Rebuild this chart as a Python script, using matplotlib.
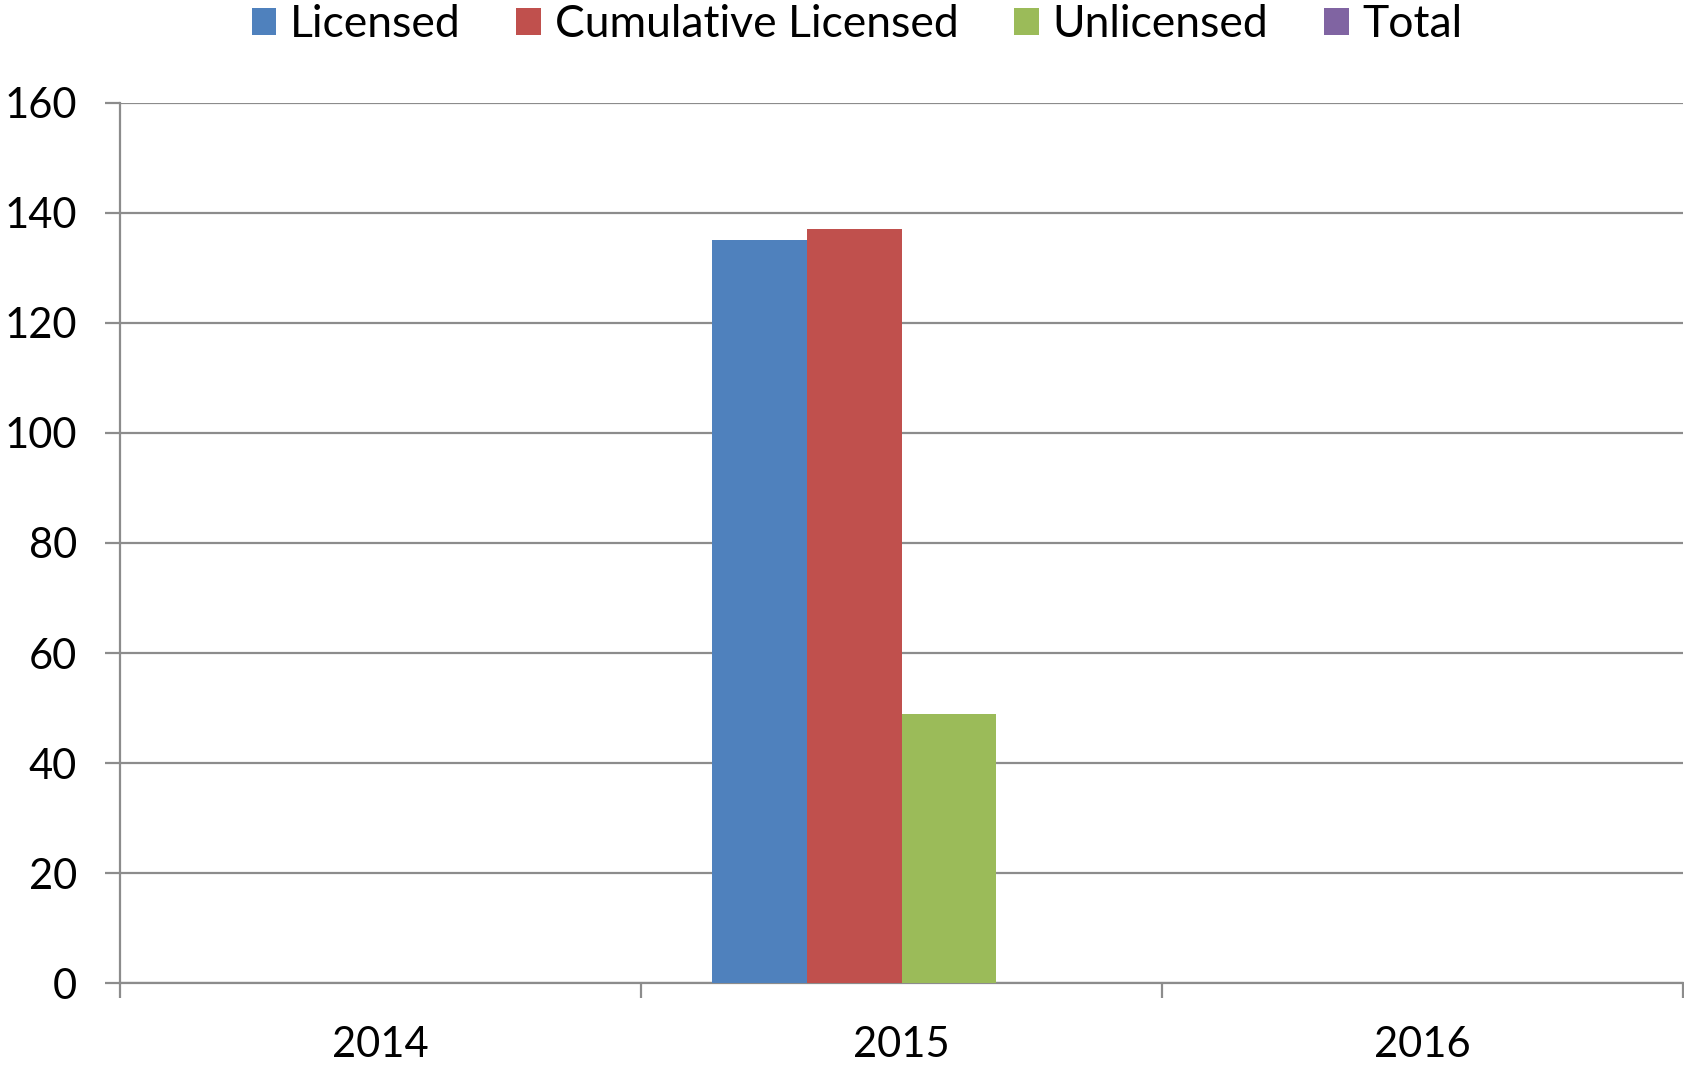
import matplotlib.pyplot as plt
import numpy as np

plt.rcParams['font.family'] = ['Lato', 'DejaVu Sans']

years = ['2014', '2015', '2016']
licensed = [0, 135, 0]
cumulative_licensed = [0, 137, 0]
unlicensed = [0, 49, 0]
total = [0, 0, 0]

series_names = ['Licensed', 'Cumulative Licensed', 'Unlicensed', 'Total']
colors = ['#4F81BD', '#C0504D', '#9BBB59', '#8064A2']
grid_col = '#8c8c8c'

fig = plt.figure(figsize=(16.84, 10.67), dpi=100)
ax = fig.add_axes([0.0713, 0.0787, 0.9281, 0.8248])

x = np.arange(len(years))
w = 1 / 5.5
for i, (vals, name, c) in enumerate(zip([licensed, cumulative_licensed, unlicensed, total],
                                       series_names, colors)):
    ax.bar(x + (i - 1.5) * w, vals, width=w, color=c, label=name, zorder=3)

ax.set_xlim(-0.5, 2.5)
ax.set_ylim(0, 160)
ax.set_yticks(range(0, 161, 20))
ax.yaxis.grid(True, color=grid_col, linewidth=1.6, zorder=0)

# category ticks sit on the boundaries, labels in the middle
ax.set_xticks([-0.5, 0.5, 1.5, 2.5])
ax.set_xticklabels([])
ax.set_xticks(x, minor=True)
ax.set_xticklabels(years, minor=True)
ax.tick_params(axis='x', which='major', length=11, width=1.6, color=grid_col, direction='out')
ax.tick_params(axis='x', which='minor', length=0, labelsize=30, pad=31)
ax.tick_params(axis='y', length=11, width=1.6, color=grid_col, labelsize=30, pad=20)

for s in ['top', 'right']:
    ax.spines[s].set_visible(False)
for s in ['left', 'bottom']:
    ax.spines[s].set_color(grid_col)
    ax.spines[s].set_linewidth(1.6)

fig.legend(loc='upper center', bbox_to_anchor=(0.509, 1.0), ncol=4, frameon=False,
           fontsize=32, handlelength=0.56, handleheight=0.56, handletextpad=0.3,
           columnspacing=1.26, borderaxespad=0, borderpad=0.1)

plt.savefig('out.png', dpi=100)
